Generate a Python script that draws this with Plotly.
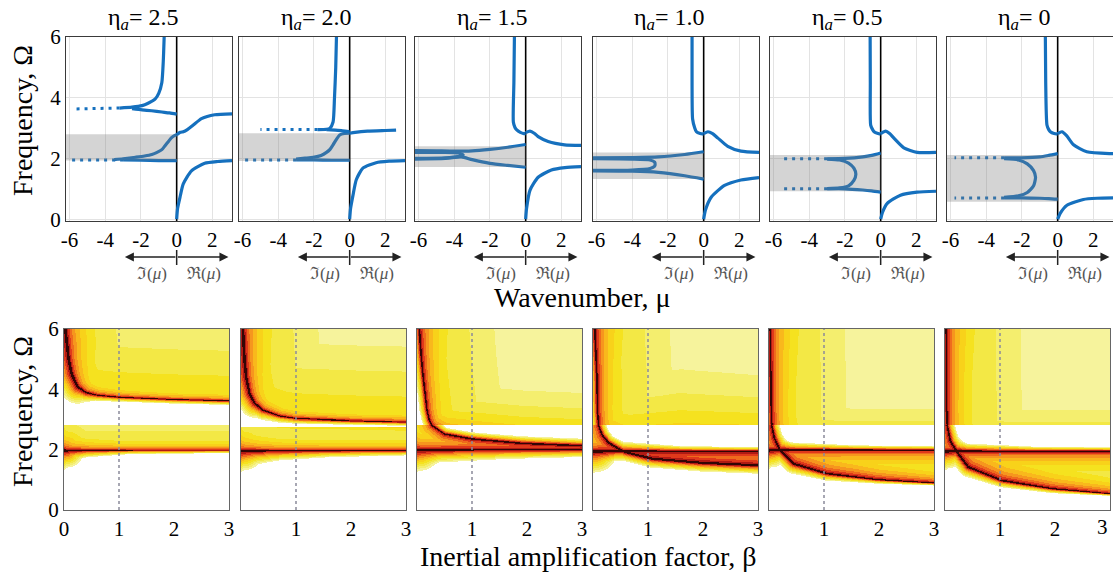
import numpy as np
import plotly.graph_objects as go

FONT = "Liberation Serif"
BLUE = "#1570be"
ETA_TEXT = ["2.5", "2.0", "1.5", "1.0", "0.5", "0"]

# ---------------- top row: dispersion curves (x<0: Im(mu), x>0: Re(mu); y: Omega)
eta25 = dict(
    band=[1.93, 2.80],
    solid=[
        ([0, 0.05, 0.19, 0.37, 0.83, 1.57, 2.3, 3.1], [0, 0.35, 0.73, 1.16, 1.59, 1.84, 1.9, 1.93]),
        ([0, 0.2, 0.37, 0.6, 0.93, 1.39, 2.13, 3.1], [2.78, 2.86, 2.88, 2.95, 3.1, 3.31, 3.44, 3.47]),
        ([-0.7, -0.75, -0.83, -1.0, -1.2, -1.6, -1.94, -2.5, -3.2], [6.0, 5.2, 4.5, 4.15, 3.96, 3.82, 3.74, 3.69, 3.66]),
        ([0, -0.4, -0.83, -1.4, -1.94, -2.5], [3.46, 3.5, 3.53, 3.57, 3.6, 3.64]),
        ([0, -1, -2, -3], [1.93, 1.93, 1.94, 1.95]),
        ([0, -0.1, -0.3, -0.46, -0.65, -0.83, -1.1, -1.39, -1.8, -2.3, -3.0, -3.5],
         [2.78, 2.76, 2.68, 2.56, 2.42, 2.29, 2.2, 2.13, 2.08, 2.04, 1.99, 1.96]),
    ],
    dotted=[([-3.2, -5.8], [3.66, 3.63]), ([-3.0, -5.9], [1.95, 1.95])],
)
eta20 = dict(
    band=[1.92, 2.83],
    solid=[
        ([0, 0.05, 0.19, 0.37, 0.74, 1.48, 2.2, 3.1], [0, 0.35, 0.8, 1.3, 1.68, 1.86, 1.91, 1.93]),
        ([0, 0.3, 1.0, 2.0, 2.6], [2.83, 2.86, 2.9, 2.92, 2.93]),
        ([-0.74, -0.78, -0.85, -0.93, -1.1, -1.3, -1.8], [6.0, 5.0, 4.0, 3.2, 3.0, 2.96, 2.95]),
        ([-1.3, -0.8, -0.4, 0], [2.95, 2.93, 2.91, 2.88]),
        ([0, -1, -2, -3], [1.94, 1.94, 1.95, 1.95]),
        ([0, -0.3, -0.56, -0.75, -0.93, -1.1, -1.3, -1.6, -2.04, -2.5, -3.0],
         [2.83, 2.82, 2.77, 2.62, 2.45, 2.3, 2.2, 2.1, 2.04, 2.01, 1.98]),
    ],
    dotted=[([-1.8, -5.0], [2.95, 2.95]), ([-3.0, -6.0], [1.95, 1.95])],
)
eta15 = dict(
    band=[1.72, 2.40],
    solid=[
        ([0, 0.05, 0.24, 0.7, 1.44, 2.2, 3.1], [0, 0.35, 0.95, 1.38, 1.62, 1.7, 1.73]),
        ([0, 0.24, 0.5, 0.7, 1.26, 2.18, 3.1], [2.85, 2.9, 2.82, 2.72, 2.56, 2.45, 2.43]),
        ([-0.63, -0.66, -0.69, -0.6, -0.5, -0.3, -0.1, 0], [6.0, 4.5, 3.2, 3.02, 2.94, 2.86, 2.82, 2.82]),
        ([0, -1, -2, -3, -4, -5, -6.2], [2.46, 2.37, 2.3, 2.25, 2.24, 2.25, 2.26]),
        ([0, -1, -2, -3, -3.6, -4.5, -6.2], [1.71, 1.77, 1.84, 1.96, 2.05, 2.0, 1.98]),
        ([-6.2, -4.5, -3.8, -3.5, -3.8, -4.5, -6.2], [2.2, 2.2, 2.18, 2.12, 2.06, 2.02, 2.0]),
    ],
    dotted=[],
)
eta10 = dict(
    band=[1.32, 2.20],
    solid=[
        ([0, 0.1, 0.43, 1.17, 2.09, 3.1], [0, 0.3, 0.73, 1.11, 1.29, 1.37]),
        ([0, 0.24, 0.5, 0.8, 1.35, 2.09, 3.1], [2.82, 2.88, 2.82, 2.67, 2.4, 2.24, 2.2]),
        ([-0.65, -0.65, -0.62, -0.5, -0.41, -0.2, 0], [6.0, 4.5, 3.3, 3.0, 2.88, 2.82, 2.8]),
        ([0, -1.06, -2.54, -4.0, -6.2], [2.22, 2.13, 2.05, 2.03, 2.02]),
        ([0, -1.06, -2.54, -4.0, -6.2], [1.32, 1.43, 1.54, 1.58, 1.59]),
        ([-6.2, -4, -3.0, -2.75, -2.72, -2.75, -3.0, -4, -6.2], [1.99, 1.98, 1.95, 1.88, 1.81, 1.74, 1.67, 1.62, 1.61]),
    ],
    dotted=[],
)
eta05 = dict(
    band=[0.92, 2.11],
    solid=[
        ([0, 0.1, 0.37, 1.11, 2.04, 3.1], [0, 0.22, 0.52, 0.79, 0.89, 0.92]),
        ([0, 0.28, 0.5, 0.74, 1.3, 2.04, 3.1], [2.82, 2.9, 2.82, 2.67, 2.35, 2.2, 2.2]),
        ([-0.59, -0.58, -0.56, -0.45, -0.37, -0.15, 0], [6.0, 4.5, 3.1, 2.95, 2.88, 2.82, 2.8]),
        ([0, -0.5, -1.0, -2.0, -3.0], [2.18, 2.1, 2.05, 2.0, 1.99]),
        ([0, -0.5, -1.0, -2.0, -3.0], [0.89, 0.93, 0.96, 1.0, 1.0]),
        ([-3.0, -2.3, -1.8, -1.5, -1.39, -1.5, -1.8, -2.3, -3.0], [1.98, 1.95, 1.85, 1.68, 1.48, 1.28, 1.1, 1.03, 1.01]),
    ],
    dotted=[([-3.0, -5.65], [1.99, 1.99]), ([-3.0, -5.65], [1.0, 1.0])],
)
eta00 = dict(
    band=[0.57, 2.11],
    solid=[
        ([0, 0.15, 0.52, 1.44, 2.2, 3.1], [0, 0.2, 0.46, 0.65, 0.69, 0.7]),
        ([0, 0.24, 0.5, 0.89, 1.63, 2.93, 3.1], [2.82, 2.88, 2.75, 2.45, 2.22, 2.16, 2.16]),
        ([-0.69, -0.67, -0.6, -0.5, -0.41, -0.2, 0], [6.0, 4.5, 3.1, 2.95, 2.88, 2.82, 2.8]),
        ([0, -0.5, -1, -2, -3], [2.16, 2.1, 2.05, 2.02, 2.02]),
        ([0, -0.5, -1, -2, -3], [0.66, 0.68, 0.69, 0.7, 0.7]),
        ([-3, -2.2, -1.7, -1.35, -1.24, -1.35, -1.7, -2.2, -3], [1.99, 1.95, 1.82, 1.6, 1.38, 1.1, 0.88, 0.77, 0.72]),
    ],
    dotted=[([-3.0, -5.78], [2.02, 2.02]), ([-3.0, -5.78], [0.7, 0.7])],
)
TOP_DATA = [eta25, eta20, eta15, eta10, eta05, eta00]

# ---------------- bottom row: response maps (beta, Omega), ridges
beta25 = dict(
    ridge_b=[0.03, 0.06, 0.09, 0.15, 0.25, 0.4, 0.6, 1.0, 1.9, 3.0],
    ridge_o=[6.0, 5.5, 5.0, 4.5, 4.1, 3.9, 3.81, 3.74, 3.67, 3.62],
    ridge_wp=[2.0, 2.0, 1.8, 1.6, 1.3, 1.0, 0.8, 0.7, 0.6, 0.6],
    ridge_ws=[8, 8, 8, 8, 7, 4, 2.5, 1.8, 1.7, 1.7],
    flat_o=2.0, flat_b=[0, 0.05, 0.15, 0.4, 1.2, 3.0],
    flat_wp=[1.6, 1.3, 1.0, 0.8, 0.6, 0.6], flat_ws=[8, 7, 4.5, 2.9, 1.6, 1.2],
    gap=2.82,
)
beta20 = dict(
    ridge_b=[0.04, 0.07, 0.1, 0.16, 0.25, 0.4, 0.7, 1.0, 2.0, 3.0],
    ridge_o=[6.0, 5.0, 4.42, 3.87, 3.55, 3.32, 3.12, 3.04, 2.97, 2.93],
    ridge_wp=[2.0, 1.8, 1.6, 1.4, 1.2, 1.0, 0.8, 0.7, 0.6, 0.6],
    ridge_ws=[8, 8, 8, 7, 6, 4, 2.5, 2, 1.6, 1.5],
    flat_o=1.99, flat_b=[0, 0.05, 0.3, 0.7, 1.6, 3.0],
    flat_wp=[1.6, 1.3, 1.0, 0.8, 0.7, 0.7], flat_ws=[9, 8, 5.5, 4, 2.7, 2],
    gap=2.78,
)
beta15 = dict(
    ridge_b=[0.04, 0.07, 0.11, 0.15, 0.18, 0.22, 0.27, 0.5, 0.99, 1.9, 3.0],
    ridge_o=[6.0, 5.2, 4.42, 3.8, 3.31, 3.0, 2.82, 2.54, 2.38, 2.23, 2.15],
    ridge_wp=[2.0, 1.8, 1.6, 1.5, 1.4, 1.3, 1.3, 1.6, 1.8, 1.8, 1.8],
    ridge_ws=[3, 3, 3, 3, 3, 3, 3, 2.5, 2.6, 2.8, 2.8],
    flat_o=2.02, flat_b=[0, 0.05, 0.4, 1.6, 3.0],
    flat_wp=[1.8, 1.6, 1.6, 1.8, 1.8], flat_ws=[9, 8.5, 5.2, 3.8, 3],
    gap=2.82,
)
beta10 = dict(
    ridge_b=[0.03, 0.05, 0.07, 0.08, 0.1, 0.17, 0.28, 0.58, 1.07, 1.97, 3.0],
    ridge_o=[6.0, 5.2, 4.42, 3.31, 2.82, 2.5, 2.26, 1.93, 1.71, 1.57, 1.49],
    ridge_wp=[2.0, 1.8, 1.6, 1.5, 1.5, 1.8, 2.2, 2.6, 2.8, 2.8, 2.6],
    ridge_ws=[3, 3, 3, 3, 3, 3, 3, 3.5, 3.5, 3.4, 3.3],
    flat_o=1.97, flat_b=[0, 0.05, 0.4, 1.6, 3.0],
    flat_wp=[1.8, 1.8, 2.4, 2.8, 2.6], flat_ws=[9, 8.5, 4, 2, 1.6],
    gap=2.82,
)
beta05 = dict(
    ridge_b=[0.02, 0.03, 0.04, 0.05, 0.1, 0.2, 0.44, 1.05, 1.96, 3.0],
    ridge_o=[6.0, 4.5, 3.3, 2.82, 2.4, 2.0, 1.55, 1.22, 1.02, 0.91],
    ridge_wp=[2.0, 1.8, 1.7, 1.7, 1.9, 2.1, 2.3, 2.0, 1.5, 1.1],
    ridge_ws=[3, 3, 3, 3, 3.5, 4, 4, 2.8, 1.6, 1.0],
    flat_o=2.01, flat_b=[0, 0.05, 0.4, 1.6, 3.0],
    flat_wp=[1.8, 1.6, 1.5, 1.4, 1.4], flat_ws=[8, 7, 3, 1.8, 1.5],
    gap=2.82,
)
beta00 = dict(
    ridge_b=[0.02, 0.025, 0.03, 0.04, 0.1, 0.24, 0.42, 1.03, 1.94, 3.0],
    ridge_o=[6.0, 4.5, 3.3, 2.82, 2.3, 1.88, 1.44, 0.99, 0.72, 0.55],
    ridge_wp=[2.0, 1.8, 1.7, 1.7, 1.9, 2.1, 2.3, 2.0, 1.5, 1.1],
    ridge_ws=[3, 3, 3, 3, 3.5, 4, 4, 2.7, 1.8, 0.8],
    flat_o=1.97, flat_b=[0, 0.05, 0.4, 1.6, 3.0],
    flat_wp=[1.8, 1.6, 1.5, 1.4, 1.4], flat_ws=[8, 7, 3, 1.8, 1.5],
    gap=2.82,
)
BOT_DATA = [beta25, beta20, beta15, beta10, beta05, beta00]

LEVEL_COLORS = ["#ffffff", "#f6f39c", "#f4ee6e", "#f3e845", "#f5e21f", "#f8d21a",
                "#f9b81c", "#f6961e", "#ef6b1d", "#e0391b", "#b01a14", "#330505"]

# ---------------- geometry (pixels)
W, H = 1113, 579
TOP_L = [66, 239, 415, 593, 770, 947]
TOP_W = 166
BOT_L = [64, 241, 417, 593, 769, 945]
BOT_W = 165
TOP_Y = (37, 221)
BOT_Y = (329, 510)
SX = BOT_W / 3.0
SY = (BOT_Y[1] - BOT_Y[0]) / 6.0


def px2x(px):
    return px / W


def px2y(py):
    return 1 - py / H


def poly_dist(X, Y, pb, po, w):
    px = np.asarray(pb, float) * SX
    py = np.asarray(po, float) * SY
    w = np.asarray(w, float)
    nd = np.full(X.shape, np.inf)
    dd = np.full(X.shape, np.inf)
    if len(px) == 0:
        return nd, dd
    if len(px) == 1:
        d = np.hypot(X - px[0], Y - py[0])
        return d / w[0], d
    for j in range(len(px) - 1):
        ax, ay, bx, by = px[j], py[j], px[j + 1], py[j + 1]
        dx, dy = bx - ax, by - ay
        L2 = dx * dx + dy * dy
        t = np.zeros_like(X) if L2 == 0 else np.clip(((X - ax) * dx + (Y - ay) * dy) / L2, 0, 1)
        d = np.hypot(X - (ax + t * dx), Y - (ay + t * dy))
        ww = w[j] + t * (w[j + 1] - w[j])
        nd = np.minimum(nd, d / ww)
        dd = np.minimum(dd, d)
    return nd, dd


def response_map(p):
    bb = np.linspace(0, 3, 331)
    oo = np.linspace(0, 6, 363)
    BB, OO = np.meshgrid(bb, oo)
    X, Y = BB * SX, OO * SY
    rb, ro = np.array(p["ridge_b"]), np.array(p["ridge_o"])
    G, Lf = p["gap"], p["flat_o"]
    fb = p["flat_b"]
    fo = [Lf] * len(fb)
    ndp_r, _ = poly_dist(X, Y, rb, ro, p["ridge_wp"])
    nds_r, _ = poly_dist(X, Y, rb, ro, p["ridge_ws"])
    ndp_f, d_f = poly_dist(X, Y, fb, fo, p["flat_wp"])
    nds_f, _ = poly_dist(X, Y, fb, fo, p["flat_ws"])
    up = ro >= G
    lo = ro <= G
    _, d_up = poly_dist(X, Y, rb[up], ro[up], np.ones(up.sum()))
    _, d_lo = poly_dist(X, Y, rb[lo], ro[lo], np.ones(lo.sum()))
    R = np.interp(BB, rb, ro)
    top = OO >= np.maximum(R, G)
    mid = np.where(R >= G, (OO >= Lf) & (OO <= G),
                   (OO >= np.minimum(R, Lf)) & (OO <= np.maximum(R, Lf)))
    passing = top | mid
    Z0, A, S = 12.2, 3.0, 3.0
    core = np.maximum(Z0 - A * np.log1p(ndp_r), Z0 - A * np.log1p(ndp_f))
    stop = np.maximum(Z0 - A * np.log1p(nds_r) - S * nds_r, Z0 - A * np.log1p(nds_f) - S * nds_f)
    halo = np.where(top, 5.0 - d_up / 25.0, 4.9 - np.minimum(d_lo, d_f) / 10.0)
    z = np.where(passing, np.maximum(np.maximum(core, halo), 1.0), np.maximum(stop, 0.0))
    z = np.floor(np.clip(z, 0, 11.99))
    return bb, oo, z


def aname(k, c):
    return f"{c}axis" if k == 1 else f"{c}axis{k}"


def aref(k, c):
    return c if k == 1 else f"{c}{k}"


nlev = len(LEVEL_COLORS)
cscale = []
for i, c in enumerate(LEVEL_COLORS):
    cscale.append([i / nlev, c])
    cscale.append([(i + 1) / nlev, c])

traces, shapes, annos = [], [], []
layout = dict(width=W, height=H, margin=dict(l=0, r=0, t=0, b=0, autoexpand=False),
              paper_bgcolor="white", plot_bgcolor="white", showlegend=False,
              font=dict(family=FONT, color="black"))

tickfont = dict(family=FONT, size=21, color="black")


def text_anno(x, y, text, size, color="black", xref="paper", yref="paper", angle=0, xanchor="center"):
    return dict(x=x, y=y, xref=xref, yref=yref, text=text, showarrow=False,
                xanchor=xanchor, yanchor="middle", textangle=angle,
                font=dict(family=FONT, size=size, color=color))


for i in range(6):
    kt, kb = i + 1, i + 7
    xt, yt, xb, yb = aref(kt, "x"), aref(kt, "y"), aref(kb, "x"), aref(kb, "y")
    layout[aname(kt, "x")] = dict(
        domain=[px2x(TOP_L[i]), px2x(TOP_L[i] + TOP_W)], range=[-6.2, 3.1], anchor=yt,
        tickvals=[-6, -4, -2, 0, 2], ticktext=["-6", "-4", "-2", "0", "2"],
        showgrid=True, gridcolor="#e3e3e3", gridwidth=1, zeroline=False,
        showline=True, mirror=True, linecolor="#3a3a3a", linewidth=1, ticks="",
        tickfont=tickfont, fixedrange=True)
    layout[aname(kt, "y")] = dict(
        domain=[px2y(TOP_Y[1]), px2y(TOP_Y[0])], range=[-0.06, 6.0], anchor=xt,
        tickvals=[0, 2, 4, 6], showticklabels=(i == 0),
        showgrid=True, gridcolor="#e3e3e3", gridwidth=1, zeroline=False,
        showline=True, mirror=True, linecolor="#3a3a3a", linewidth=1, ticks="",
        tickfont=tickfont, fixedrange=True)
    bot_ticks = [0, 1, 2, 3] if i == 0 else ([1, 2] if i == 5 else [1, 2, 3])
    layout[aname(kb, "x")] = dict(
        domain=[px2x(BOT_L[i]), px2x(BOT_L[i] + BOT_W)], range=[0, 3], anchor=yb,
        tickvals=bot_ticks,
        showgrid=False, zeroline=False, showline=True, mirror=True,
        linecolor="#666666", linewidth=1, ticks="", tickfont=tickfont, fixedrange=True)
    layout[aname(kb, "y")] = dict(
        domain=[px2y(BOT_Y[1]), px2y(BOT_Y[0])], range=[0, 6], anchor=xb,
        tickvals=[0, 2, 4, 6], showticklabels=(i == 0),
        showgrid=False, zeroline=False, showline=True, mirror=True,
        linecolor="#666666", linewidth=1, ticks="", tickfont=tickfont, fixedrange=True)
    if i == 5:
        # last tick label sits at the page edge; drawn as text so it stays visible
        annos.append(text_anno(3, px2y(527), "3", 21, xref=xb, xanchor="right"))

    # ---- top panel
    d = TOP_DATA[i]
    traces.append(go.Scatter(x=[0, 0], y=[-0.1, 6.0], mode="lines", xaxis=xt, yaxis=yt,
                             line=dict(color="black", width=1.6), hoverinfo="skip"))
    for cx, cy in d["solid"]:
        traces.append(go.Scatter(x=cx, y=cy, mode="lines", xaxis=xt, yaxis=yt,
                                 line=dict(color=BLUE, width=3.2, shape="spline", smoothing=0.6)))
    for cx, cy in d["dotted"]:
        traces.append(go.Scatter(x=cx, y=cy, mode="lines", xaxis=xt, yaxis=yt,
                                 line=dict(color=BLUE, width=3, dash="3px,5px")))
    shapes.append(dict(type="rect", xref=xt, yref=yt, x0=-6.2, x1=0, y0=d["band"][0], y1=d["band"][1],
                       fillcolor="rgba(120,120,120,0.32)", line=dict(width=0), layer="above"))

    # arrows under top panel
    ya = px2y(257)
    for head, off in [(2.9, -52), (-2.9, 52)]:
        annos.append(dict(x=head, y=ya, xref=xt, yref="paper", ax=off, ay=0, axref="pixel",
                          ayref="pixel", text="", showarrow=True, arrowhead=2, arrowsize=1.2,
                          arrowwidth=1.5, arrowcolor="#222222"))
    shapes.append(dict(type="line", xref=xt, yref="paper", x0=0, x1=0, y0=px2y(250), y1=px2y(265),
                       line=dict(color="#222222", width=1.5)))
    annos.append(text_anno(-1.4, px2y(273), "ℑ(<i>μ</i>)", 17, "#555555", xref=xt))
    annos.append(text_anno(1.55, px2y(273), "ℜ(<i>μ</i>)", 17, "#555555", xref=xt))
    annos.append(text_anno(px2x(TOP_L[i] + TOP_W / 2 - 6), px2y(19),
                           f"η<sub><i>a</i></sub>= {ETA_TEXT[i]}", 24))

    # ---- bottom panel
    bb, oo, z = response_map(BOT_DATA[i])
    traces.append(go.Heatmap(x=bb, y=oo, z=z, xaxis=xb, yaxis=yb, colorscale=cscale,
                             zmin=-0.5, zmax=nlev - 0.5, showscale=False, hoverinfo="skip"))
    shapes.append(dict(type="line", xref=xb, yref=yb, x0=1, x1=1, y0=0, y1=6,
                       line=dict(color="#8a8a9a", width=1.5, dash="3px,3px"), layer="above"))

annos.append(text_anno(px2x(22), px2y(121), "Frequency, Ω", 28, angle=-90))
annos.append(text_anno(px2x(22), px2y(412), "Frequency, Ω", 28, angle=-90))
annos.append(text_anno(px2x(582), px2y(297), "Wavenumber, μ", 28))
annos.append(text_anno(px2x(588), px2y(556), "Inertial amplification factor, β", 28))

layout["shapes"] = shapes
layout["annotations"] = annos
fig = go.Figure(data=traces, layout=layout)
fig.write_html("out.html")
